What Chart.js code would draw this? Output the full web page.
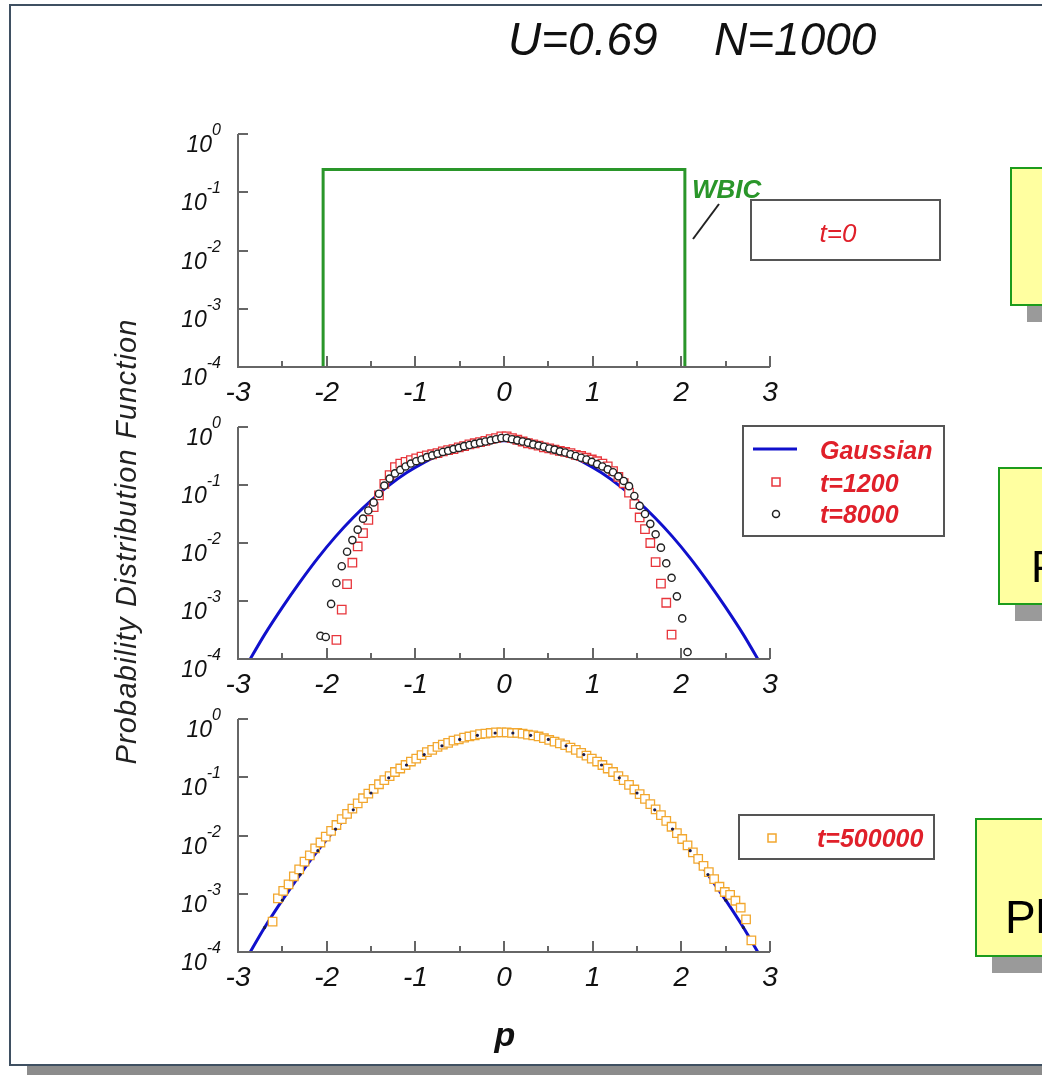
<!DOCTYPE html>
<html>
<head>
<meta charset="utf-8">
<title>U=0.69 N=1000</title>
<script src="https://cdn.jsdelivr.net/npm/chart.js@4.4.1/dist/chart.umd.min.js"></script>
<style>
  html, body { margin: 0; padding: 0; }
  body { width: 1042px; height: 1075px; position: relative; overflow: hidden; background: #fff; }
  canvas { position: absolute; left: 150px; }
  #deco { position: absolute; left: 0; top: 0; z-index: 2; pointer-events: none; font-family: 'Liberation Sans', Arial, sans-serif; }
</style>
</head>
<body>
<canvas id="panel1" width="640" height="303" style="top:109px"></canvas>
<canvas id="panel2" width="640" height="302" style="top:402px"></canvas>
<canvas id="panel3" width="640" height="303" style="top:694px"></canvas>

<svg id="deco" width="1042" height="1075">
  <!-- slide frame and shadow -->
  <rect x="27" y="1066" width="1100" height="10" fill="#8c8c8c"/>
  <rect x="10" y="5" width="1100" height="1060" fill="none" stroke="#3f5062" stroke-width="2"/>

  <text x="508" y="55" font-size="46" font-style="italic" fill="#111">U=0.69</text>
  <text x="714" y="55" font-size="46" font-style="italic" fill="#111">N=1000</text>

  <text transform="translate(136,542) rotate(-90)" text-anchor="middle" font-size="29" font-style="italic"
        fill="#222" textLength="445" lengthAdjust="spacing">Probability Distribution Function</text>
  <text x="505" y="1046" text-anchor="middle" font-size="34" font-weight="bold" font-style="italic" fill="#111">p</text>

  <!-- panel 1 annotations -->
  <text x="692" y="198" font-size="26" font-weight="bold" font-style="italic" fill="#2a962a">WBIC</text>
  <line x1="693" y1="239" x2="719" y2="204" stroke="#222" stroke-width="2"/>
  <rect x="751" y="200" width="189" height="60" fill="#fff" stroke="#555" stroke-width="2"/>
  <text x="838" y="242" text-anchor="middle" font-size="26" font-style="italic" fill="#e0202a">t=0</text>

  <!-- panel 2 legend -->
  <rect x="743" y="426" width="201" height="110" fill="#fff" stroke="#555" stroke-width="2"/>
  <line x1="753" y1="449" x2="797" y2="449" stroke="#1010cc" stroke-width="3"/>
  <text x="820" y="459" font-size="25" font-weight="bold" font-style="italic" fill="#e0202a">Gaussian</text>
  <rect x="772" y="478" width="8" height="8" fill="#fff" stroke="#e8363c" stroke-width="1.5"/>
  <text x="820" y="492" font-size="25" font-weight="bold" font-style="italic" fill="#e0202a">t=1200</text>
  <circle cx="776" cy="514" r="3.5" fill="#fff" stroke="#222" stroke-width="1.5"/>
  <text x="820" y="523" font-size="25" font-weight="bold" font-style="italic" fill="#e0202a">t=8000</text>

  <!-- panel 3 legend -->
  <rect x="739" y="815" width="195" height="44" fill="#fff" stroke="#555" stroke-width="2"/>
  <rect x="768" y="834" width="8" height="8" fill="#fff" stroke="#f2a72e" stroke-width="1.5"/>
  <text x="817" y="847" font-size="25" font-weight="bold" font-style="italic" fill="#e0202a">t=500000</text>

  <!-- side notes, cut off by the slide edge -->
  <rect x="1027" y="185" width="200" height="137" fill="#9a9a9a"/>
  <rect x="1011" y="168" width="200" height="137" fill="#ffffa0" stroke="#1c9c1c" stroke-width="2"/>
  <rect x="1015" y="485" width="200" height="136" fill="#9a9a9a"/>
  <rect x="999" y="468" width="200" height="136" fill="#ffffa0" stroke="#1c9c1c" stroke-width="2"/>
  <text x="1031" y="582" font-size="44" fill="#000">P</text>
  <rect x="992" y="836" width="200" height="137" fill="#9a9a9a"/>
  <rect x="976" y="819" width="200" height="137" fill="#ffffa0" stroke="#1c9c1c" stroke-width="2"/>
  <text x="1005" y="933" font-size="46" fill="#000">Pl</text>
</svg>

<script>
const xTicks = [-3, -2, -1, 0, 1, 2, 3];
const xTickLabels = ['-3', '-2', '-1', '0', '1', '2', '3'];
const xMinorTicks = [-2.5, -1.5, -0.5, 0.5, 1.5, 2.5];
const yTicks = [1, 0.1, 0.01, 0.001, 0.0001];
const yTickExponents = ['0', '-1', '-2', '-3', '-4'];

// t=0 : flat (WBIC) distribution on [-2, 2]
const wbicP = [-2.04, -2.04, 2.04, 2.04];
const wbicPdf = [1e-6, 0.245, 0.245, 1e-6];

// Gaussian curve (log10 of the pdf)
const gaussP = [-2.9, -2.7, -2.5, -2.3, -2.1, -1.9, -1.7, -1.5, -1.3, -1.1,
  -0.9, -0.7, -0.5, -0.3, -0.1, 0.1, 0.3, 0.5, 0.7, 0.9,
  1.1, 1.3, 1.5, 1.7, 1.9, 2.1, 2.3, 2.5, 2.7, 2.9];
const gaussLog = [-4.10, -3.58, -3.11, -2.67, -2.26, -1.89, -1.56, -1.27, -1.01, -0.79,
  -0.61, -0.46, -0.35, -0.28, -0.24, -0.24, -0.28, -0.35, -0.46, -0.61,
  -0.79, -1.01, -1.27, -1.56, -1.89, -2.26, -2.67, -3.11, -3.58, -4.10];

// bins for t=1200 and t=8000
const pMid = [-2.07, -2.01, -1.95, -1.89, -1.83, -1.77, -1.71, -1.65, -1.59, -1.53,
  -1.47, -1.41, -1.35, -1.29, -1.23, -1.17, -1.11, -1.05, -0.99, -0.93,
  -0.87, -0.81, -0.75, -0.69, -0.63, -0.57, -0.51, -0.45, -0.39, -0.33,
  -0.27, -0.21, -0.15, -0.09, -0.03, 0.03, 0.09, 0.15, 0.21, 0.27,
  0.33, 0.39, 0.45, 0.51, 0.57, 0.63, 0.69, 0.75, 0.81, 0.87,
  0.93, 0.99, 1.05, 1.11, 1.17, 1.23, 1.29, 1.35, 1.41, 1.47,
  1.53, 1.59, 1.65, 1.71, 1.77, 1.83, 1.89, 1.95, 2.01, 2.07];
const log1200 = [null, null, null, -3.67, -3.15, -2.71, -2.34, -2.06, -1.83, -1.60,
  -1.38, -1.18, -0.98, -0.83, -0.69, -0.63, -0.60, -0.57, -0.54, -0.51,
  -0.49, -0.47, -0.45, -0.42, -0.40, -0.38, -0.35, -0.33, -0.30, -0.28,
  -0.26, -0.24, -0.21, -0.19, -0.16, -0.16, -0.19, -0.22, -0.25, -0.28,
  -0.30, -0.32, -0.35, -0.37, -0.39, -0.41, -0.43, -0.45, -0.48, -0.50,
  -0.53, -0.56, -0.59, -0.63, -0.68, -0.76, -0.86, -0.97, -1.13, -1.33,
  -1.56, -1.76, -2.00, -2.33, -2.70, -3.03, -3.58, null, null, null];
const log8000 = [-3.60, -3.62, -3.05, -2.69, -2.40, -2.15, -1.95, -1.77, -1.58, -1.44,
  -1.30, -1.15, -1.01, -0.89, -0.80, -0.74, -0.68, -0.63, -0.59, -0.56,
  -0.52, -0.49, -0.46, -0.43, -0.41, -0.38, -0.36, -0.33, -0.31, -0.29,
  -0.27, -0.25, -0.23, -0.21, -0.19, -0.19, -0.21, -0.23, -0.25, -0.27,
  -0.30, -0.32, -0.34, -0.37, -0.39, -0.42, -0.44, -0.47, -0.50, -0.53,
  -0.56, -0.60, -0.64, -0.68, -0.73, -0.78, -0.85, -0.93, -1.02, -1.19,
  -1.36, -1.50, -1.67, -1.85, -2.08, -2.35, -2.60, -2.92, -3.30, -3.88];

// bins for t=500000
const pLate = [-2.61, -2.55, -2.49, -2.43, -2.37, -2.31, -2.25, -2.19, -2.13, -2.07,
  -2.01, -1.95, -1.89, -1.83, -1.77, -1.71, -1.65, -1.59, -1.53, -1.47,
  -1.41, -1.35, -1.29, -1.23, -1.17, -1.11, -1.05, -0.99, -0.93, -0.87,
  -0.81, -0.75, -0.69, -0.63, -0.57, -0.51, -0.45, -0.39, -0.33, -0.27,
  -0.21, -0.15, -0.09, -0.03, 0.03, 0.09, 0.15, 0.21, 0.27, 0.33,
  0.39, 0.45, 0.51, 0.57, 0.63, 0.69, 0.75, 0.81, 0.87, 0.93,
  0.99, 1.05, 1.11, 1.17, 1.23, 1.29, 1.35, 1.41, 1.47, 1.53,
  1.59, 1.65, 1.71, 1.77, 1.83, 1.89, 1.95, 2.01, 2.07, 2.13,
  2.19, 2.25, 2.31, 2.37, 2.43, 2.49, 2.55, 2.61, 2.67, 2.73, 2.79];
const log500000 = [-3.48, -3.08, -2.95, -2.84, -2.70, -2.58, -2.45, -2.34, -2.22, -2.12,
  -2.02, -1.92, -1.82, -1.72, -1.63, -1.54, -1.45, -1.36, -1.28, -1.20,
  -1.12, -1.05, -0.98, -0.91, -0.85, -0.79, -0.73, -0.68, -0.62, -0.57,
  -0.53, -0.48, -0.44, -0.41, -0.37, -0.35, -0.32, -0.30, -0.28, -0.26,
  -0.25, -0.24, -0.23, -0.23, -0.23, -0.24, -0.24, -0.25, -0.27, -0.28,
  -0.30, -0.33, -0.36, -0.39, -0.42, -0.45, -0.49, -0.53, -0.58, -0.63,
  -0.68, -0.73, -0.79, -0.85, -0.91, -0.98, -1.05, -1.13, -1.21, -1.29,
  -1.37, -1.46, -1.55, -1.65, -1.75, -1.85, -1.96, -2.06, -2.17, -2.29,
  -2.40, -2.52, -2.63, -2.75, -2.88, -2.97, -3.02, -3.12, -3.24, -3.44, -3.80];

const BLUE = '#1010cc';
const FONT = "'Liberation Sans', Arial, sans-serif";

function toPoints(ps, logs) {
  const out = [];
  ps.forEach((p, i) => {
    if (logs[i] !== null) out.push({ x: p, y: Math.pow(10, logs[i]) });
  });
  return out;
}

// L-shaped axes with inward ticks, labels like 10^-2
const axesPlugin = {
  id: 'inwardAxes',
  afterDraw(chart) {
    const ctx = chart.ctx;
    const a = chart.chartArea;
    const x = chart.scales.x;
    const y = chart.scales.y;

    ctx.save();
    ctx.strokeStyle = '#666';
    ctx.lineWidth = 2;
    ctx.beginPath();
    ctx.moveTo(a.left, a.top);
    ctx.lineTo(a.left, a.bottom);
    ctx.lineTo(a.right, a.bottom);
    yTicks.forEach(v => {
      const py = Math.round(y.getPixelForValue(v));
      ctx.moveTo(a.left, py);
      ctx.lineTo(a.left + 10, py);
    });
    xTicks.forEach(v => {
      const px = Math.round(x.getPixelForValue(v));
      ctx.moveTo(px, a.bottom);
      ctx.lineTo(px, a.bottom - 11);
    });
    xMinorTicks.forEach(v => {
      const px = Math.round(x.getPixelForValue(v));
      ctx.moveTo(px, a.bottom);
      ctx.lineTo(px, a.bottom - 6);
    });
    ctx.stroke();

    ctx.fillStyle = '#111';
    ctx.textBaseline = 'alphabetic';
    ctx.textAlign = 'center';
    ctx.font = 'italic 28px ' + FONT;
    xTicks.forEach((v, i) => {
      ctx.fillText(xTickLabels[i], x.getPixelForValue(v), a.bottom + 34);
    });

    ctx.textAlign = 'right';
    const right = a.left - 17;
    yTicks.forEach((v, i) => {
      const py = y.getPixelForValue(v);
      ctx.font = 'italic 16px ' + FONT;
      const expW = ctx.measureText(yTickExponents[i]).width;
      ctx.fillText(yTickExponents[i], right, py + 1);
      ctx.font = 'italic 23px ' + FONT;
      ctx.fillText('10', right - expW, py + 18);
    });
    ctx.restore();
  }
};

function makePanel(id, datasets) {
  const ctx = document.getElementById(id).getContext('2d');
  return new Chart(ctx, {
    type: 'scatter',
    data: { datasets: datasets },
    options: {
      responsive: false,
      devicePixelRatio: 1,
      animation: false,
      events: [],
      layout: { padding: { left: 88, right: 20, top: 25, bottom: 45 } },
      plugins: { legend: { display: false }, tooltip: { enabled: false } },
      scales: {
        x: { type: 'linear', min: -3, max: 3, display: false },
        y: { type: 'logarithmic', min: 1e-4, max: 1, display: false }
      }
    },
    plugins: [axesPlugin]
  });
}

function gaussianLine() {
  return {
    label: 'Gaussian',
    data: toPoints(gaussP, gaussLog),
    showLine: true,
    borderColor: BLUE,
    borderWidth: 3,
    pointRadius: 0,
    tension: 0.3,
    clip: 0,
    order: 5
  };
}

makePanel('panel1', [{
  label: 't=0',
  data: wbicP.map((p, i) => ({ x: p, y: wbicPdf[i] })),
  showLine: true,
  borderColor: '#2a962a',
  borderWidth: 3,
  pointRadius: 0,
  clip: 0
}]);

makePanel('panel2', [
  gaussianLine(),
  {
    label: 't=1200',
    data: toPoints(pMid, log1200),
    pointStyle: 'rect',
    pointRadius: 6,
    borderColor: '#e8363c',
    borderWidth: 1.3,
    backgroundColor: '#fff',
    order: 2
  },
  {
    label: 't=8000',
    data: toPoints(pMid, log8000),
    pointStyle: 'circle',
    pointRadius: 3.6,
    borderColor: '#222',
    borderWidth: 1.4,
    backgroundColor: '#fff',
    order: 1
  }
]);

makePanel('panel3', [
  gaussianLine(),
  {
    label: 't=500000',
    data: toPoints(pLate, log500000),
    pointStyle: 'rect',
    pointRadius: 6,
    borderColor: '#f2a72e',
    borderWidth: 1.3,
    backgroundColor: '#fff',
    order: 2
  },
  {
    label: 'Gaussian points',
    data: toPoints(gaussP, gaussLog),
    pointRadius: 1.6,
    borderWidth: 0,
    backgroundColor: '#1a1a4a',
    order: 1
  }
]);
</script>
</body>
</html>
